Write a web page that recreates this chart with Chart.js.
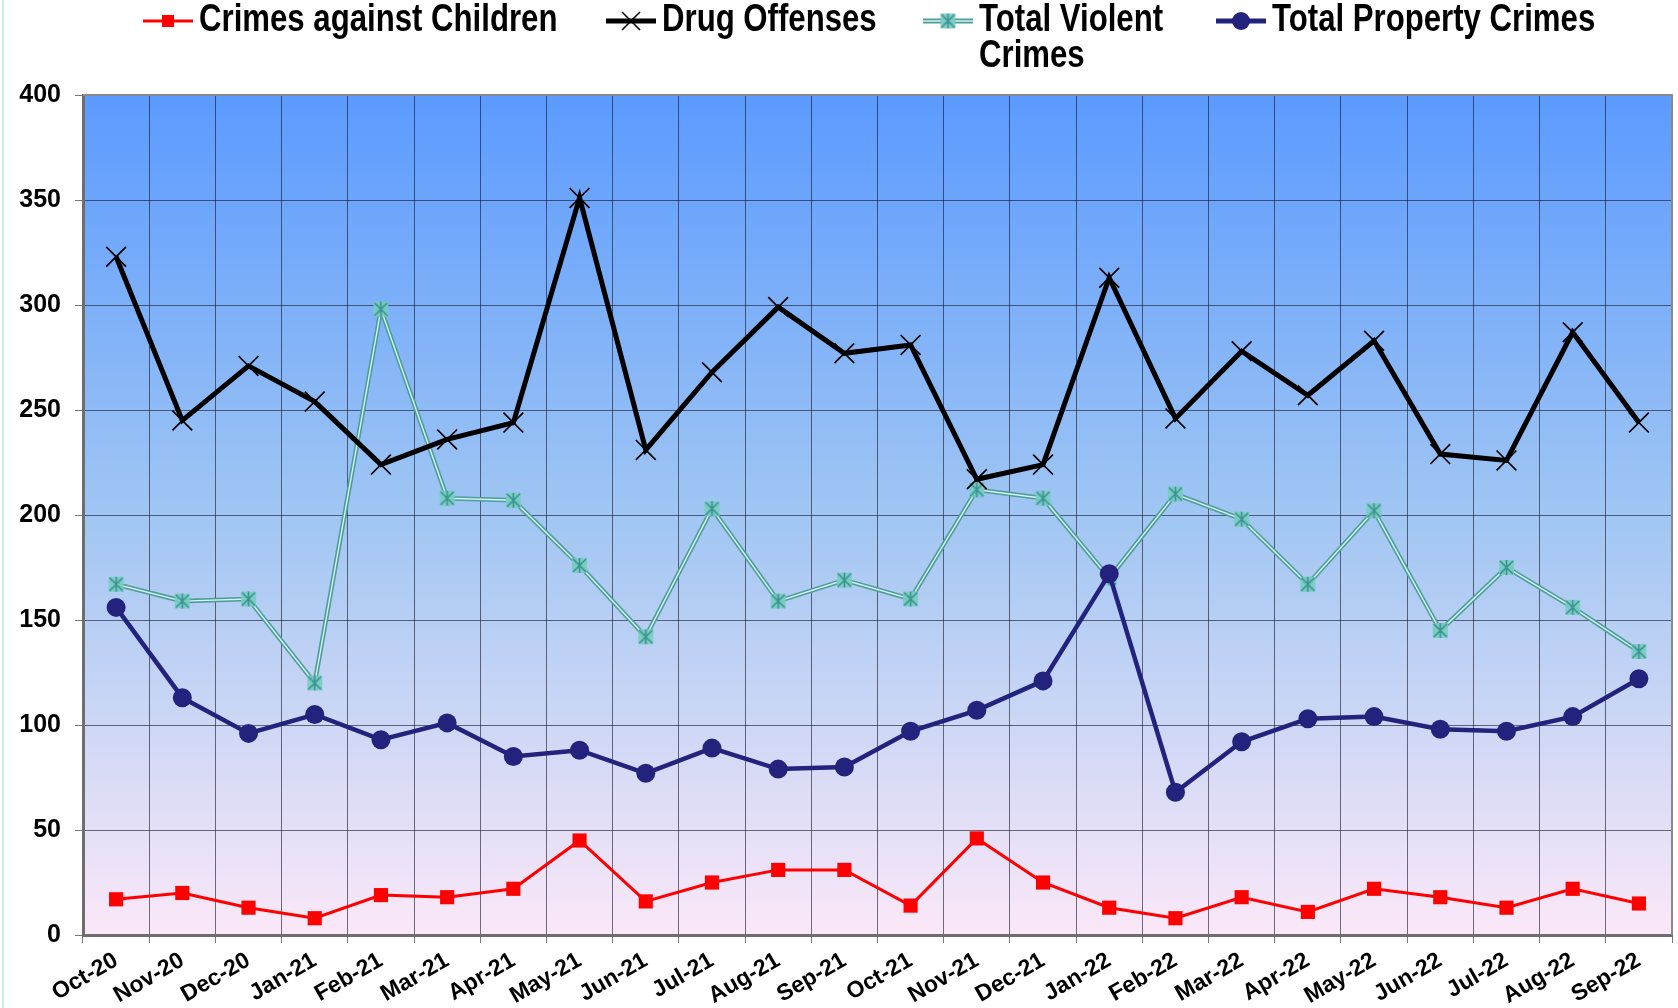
<!DOCTYPE html>
<html>
<head>
<meta charset="utf-8">
<title>Monthly crime counts</title>
<script src="https://cdn.jsdelivr.net/npm/chart.js@4.4.1/dist/chart.umd.min.js"></script>
<style>
  html, body { margin: 0; padding: 0; background: #fff; }
  #wrap { position: relative; width: 1678px; height: 1008px; }
</style>
</head>
<body>
<div id="wrap"><canvas id="crimeChart" width="1678" height="1008"></canvas></div>
<script>
// ---- data ----
var months = ['Oct-20', 'Nov-20', 'Dec-20', 'Jan-21', 'Feb-21', 'Mar-21', 'Apr-21', 'May-21',
    'Jun-21', 'Jul-21', 'Aug-21', 'Sep-21', 'Oct-21', 'Nov-21', 'Dec-21', 'Jan-22',
    'Feb-22', 'Mar-22', 'Apr-22', 'May-22', 'Jun-22', 'Jul-22', 'Aug-22', 'Sep-22'];

var childrenCrimes = [17, 20, 13, 8, 19, 18, 22, 45, 16, 25, 31, 31, 14, 46, 25, 13, 8, 18, 11, 22, 18, 13, 22, 15];
var drugOffenses = [323, 245, 271, 254, 224, 236, 244, 351, 231, 268, 299, 277, 281, 217, 224, 313, 246, 278, 257, 283, 229, 226, 287, 244];
var violentCrimes = [167, 159, 160, 120, 298, 208, 207, 176, 142, 203, 159, 169, 160, 212, 208, 170, 210, 198, 167, 202, 145, 175, 156, 135];
var propertyCrimes = [156, 113, 96, 105, 93, 101, 85, 88, 77, 89, 79, 80, 97, 107, 121, 172, 68, 92, 103, 104, 98, 97, 104, 122];

var yTicks = [0, 50, 100, 150, 200, 250, 300, 350, 400];

var seriesNames = ['Crimes against Children', 'Drug Offenses', ['Total Violent', 'Crimes'], 'Total Property Crimes'];

// ---- styles ----
var RED = '#ff0000';
var NAVY = '#23237d';
var TEAL = '#4d9e9a';
var TEAL_LIGHT = '#d6f1ee';
var FONT = '"Liberation Sans", Arial, sans-serif';

// star-like marker used by the violent crimes series (square + X + vertical bar)
function makeStarMarker(size) {
    var c = document.createElement('canvas');
    c.width = size;
    c.height = size;
    var g = c.getContext('2d');
    g.fillStyle = 'rgba(120,204,194,0.9)';
    g.fillRect(1, 1, size - 2, size - 2);
    g.strokeStyle = '#3a948f';
    g.lineWidth = 1.7;
    g.beginPath();
    g.moveTo(2, 2); g.lineTo(size - 2, size - 2);
    g.moveTo(size - 2, 2); g.lineTo(2, size - 2);
    g.moveTo(size / 2, 1); g.lineTo(size / 2, size - 1);
    g.stroke();
    return c;
}
var starMarker = makeStarMarker(17);

// gradient plot background + frame
var plotBackground = {
    id: 'plotBackground',
    beforeDraw: function(chart) {
        var a = chart.chartArea;
        var ctx = chart.ctx;
        var grad = ctx.createLinearGradient(0, a.top, 0, a.bottom);
        grad.addColorStop(0, '#5b9aff');
        grad.addColorStop(0.5, '#a0c6f3');
        grad.addColorStop(1, '#fbe8f8');
        ctx.save();
        ctx.fillStyle = grad;
        ctx.fillRect(a.left, a.top, a.right - a.left, a.bottom - a.top);
        // faint border line at the page edge
        ctx.fillStyle = '#cfe8ee';
        ctx.fillRect(2, 0, 2, chart.height);
        ctx.restore();
    },
    afterDraw: function(chart) {
        var a = chart.chartArea;
        var ctx = chart.ctx;
        ctx.save();
        ctx.strokeStyle = '#8a8a8a';
        ctx.lineWidth = 2;
        ctx.beginPath();
        ctx.moveTo(a.left, a.top);
        ctx.lineTo(a.right, a.top);
        ctx.lineTo(a.right, a.bottom);
        ctx.stroke();
        ctx.restore();
    }
};

// legend drawn across the top
var topLegend = {
    id: 'topLegend',
    afterDraw: function(chart) {
        var ctx = chart.ctx;
        var items = [
            { x: 142, draw: function(cx, cy) {
                ctx.strokeStyle = RED; ctx.lineWidth = 3;
                ctx.beginPath(); ctx.moveTo(cx - 25, cy); ctx.lineTo(cx + 25, cy); ctx.stroke();
                ctx.fillStyle = RED; ctx.fillRect(cx - 6, cy - 6, 12, 12);
            } },
            { x: 605, draw: function(cx, cy) {
                ctx.strokeStyle = '#000'; ctx.lineWidth = 5;
                ctx.beginPath(); ctx.moveTo(cx - 25, cy); ctx.lineTo(cx + 25, cy); ctx.stroke();
                ctx.lineWidth = 1.6;
                ctx.beginPath();
                ctx.moveTo(cx - 9, cy - 9); ctx.lineTo(cx + 9, cy + 9);
                ctx.moveTo(cx + 9, cy - 9); ctx.lineTo(cx - 9, cy + 9);
                ctx.stroke();
            } },
            { x: 922, draw: function(cx, cy) {
                ctx.strokeStyle = TEAL; ctx.lineWidth = 5;
                ctx.beginPath(); ctx.moveTo(cx - 25, cy); ctx.lineTo(cx + 25, cy); ctx.stroke();
                ctx.strokeStyle = TEAL_LIGHT; ctx.lineWidth = 1.5;
                ctx.beginPath(); ctx.moveTo(cx - 25, cy); ctx.lineTo(cx + 25, cy); ctx.stroke();
                ctx.drawImage(starMarker, cx - 8.5, cy - 8.5);
            } },
            { x: 1215, draw: function(cx, cy) {
                ctx.strokeStyle = NAVY; ctx.lineWidth = 5;
                ctx.beginPath(); ctx.moveTo(cx - 25, cy); ctx.lineTo(cx + 25, cy); ctx.stroke();
                ctx.fillStyle = NAVY;
                ctx.beginPath(); ctx.arc(cx, cy, 9, 0, Math.PI * 2); ctx.fill();
            } }
        ];
        ctx.save();
        items.forEach(function(it, i) {
            var cy = 21;
            it.draw(it.x + 26, cy);
            var lines = [].concat(seriesNames[i]);
            ctx.fillStyle = '#000';
            ctx.font = 'bold 38px ' + FONT;
            ctx.textBaseline = 'middle';
            ctx.textAlign = 'left';
            lines.forEach(function(t, j) {
                ctx.save();
                ctx.translate(it.x + 57, cy + j * 36);
                ctx.scale(0.82, 1);
                ctx.fillText(t, 0, 0);
                ctx.restore();
            });
        });
        ctx.restore();
    }
};

function initChart() {
    var el = document.getElementById('crimeChart');
    if (!el) return;

    new Chart(el, {
        type: 'line',
        data: {
            labels: months,
            datasets: [
                {
                    label: 'Crimes against Children',
                    data: childrenCrimes,
                    borderColor: RED,
                    backgroundColor: RED,
                    borderWidth: 3,
                    pointStyle: 'rect',
                    pointRadius: 10,
                    pointBorderWidth: 0,
                    tension: 0
                },
                {
                    label: 'Total Property Crimes',
                    data: propertyCrimes,
                    borderColor: NAVY,
                    backgroundColor: NAVY,
                    borderWidth: 4.5,
                    pointStyle: 'circle',
                    pointRadius: 9.5,
                    pointBorderWidth: 0,
                    tension: 0
                },
                {
                    label: 'Drug Offenses',
                    data: drugOffenses,
                    borderColor: '#000',
                    backgroundColor: '#000',
                    borderWidth: 5,
                    pointStyle: 'crossRot',
                    pointRadius: 14,
                    pointBorderWidth: 1.7,
                    tension: 0
                },
                {
                    // markers of the violent series
                    label: 'Total Violent Crimes',
                    data: violentCrimes,
                    showLine: false,
                    pointStyle: starMarker,
                    pointRadius: 9,
                    tension: 0
                },
                {
                    // inner light stroke of the double line
                    label: 'violent-inner',
                    data: violentCrimes,
                    borderColor: TEAL_LIGHT,
                    borderWidth: 1.4,
                    pointRadius: 0,
                    tension: 0
                },
                {
                    // outer teal stroke of the double line
                    label: 'violent-outer',
                    data: violentCrimes,
                    borderColor: TEAL,
                    borderWidth: 4.6,
                    pointRadius: 0,
                    tension: 0
                }
            ]
        },
        options: {
            responsive: false,
            animation: false,
            events: [],
            layout: { autoPadding: false, padding: { top: 95, right: 6, left: 0, bottom: 0 } },
            plugins: {
                legend: { display: false },
                tooltip: { enabled: false }
            },
            scales: {
                x: {
                    offset: true,
                    grid: {
                        offset: true,
                        color: 'rgba(20,20,40,0.6)',
                        lineWidth: 1,
                        tickLength: 8,
                        tickColor: '#777'
                    },
                    border: { color: '#6e6e6e', width: 3 },
                    ticks: {
                        autoSkip: false,
                        minRotation: 30,
                        maxRotation: 30,
                        padding: 4,
                        color: '#000',
                        font: { family: FONT, size: 23, weight: 'bold' }
                    },
                    afterFit: function(s) {
                        s.height = 73;
                        s.paddingLeft = 0;
                        s.paddingRight = 0;
                    }
                },
                y: {
                    min: 0,
                    max: 400,
                    afterBuildTicks: function(s) {
                        s.ticks = yTicks.map(function(v) { return { value: v }; });
                    },
                    grid: {
                        color: 'rgba(20,20,40,0.6)',
                        lineWidth: 1,
                        tickLength: 8,
                        tickColor: '#777'
                    },
                    border: { color: '#6e6e6e', width: 3 },
                    ticks: {
                        padding: 14,
                        color: '#000',
                        font: { family: FONT, size: 25, weight: 'bold' }
                    },
                    afterFit: function(s) {
                        s.width = 83;
                        s.paddingTop = 0;
                        s.paddingBottom = 0;
                    }
                }
            }
        },
        plugins: [plotBackground, topLegend]
    });
}

if (document.readyState === 'loading') {
    document.addEventListener('DOMContentLoaded', initChart);
} else {
    initChart();
}
</script>
</body>
</html>
